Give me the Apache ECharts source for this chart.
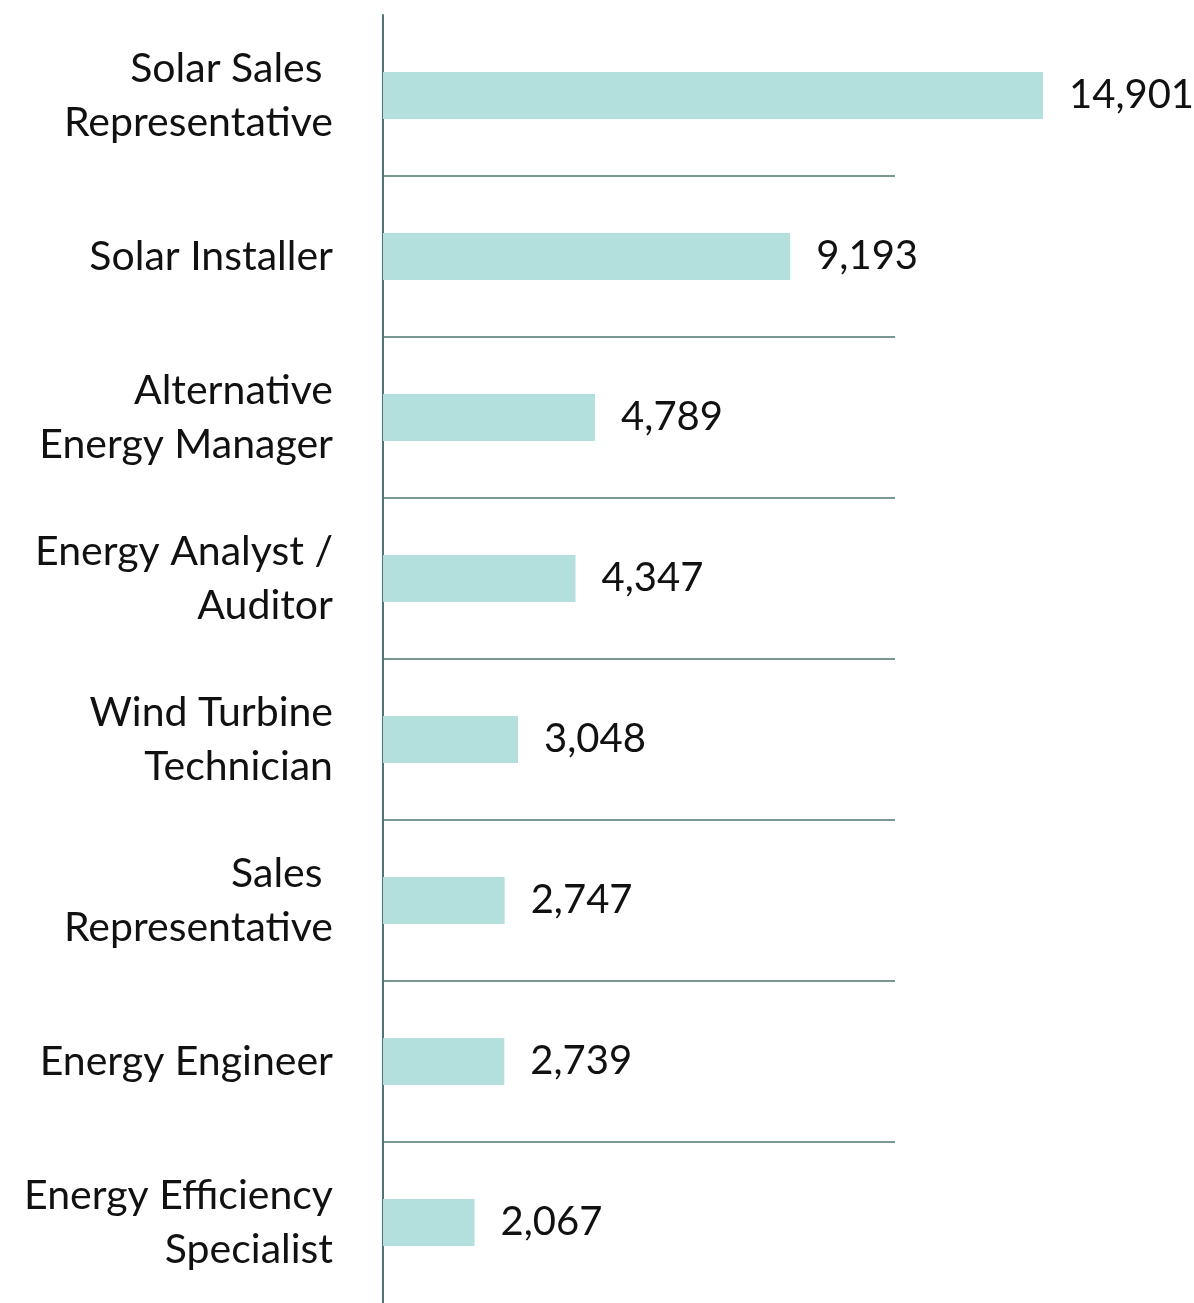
<!DOCTYPE html>
<html>
<head>
<meta charset="utf-8">
<script src="https://cdn.jsdelivr.net/npm/echarts@6/dist/echarts.min.js"></script>
<style>
  html, body { margin: 0; padding: 0; background: #fff; }
  #chart { width: 1194px; height: 1303px; }
</style>
</head>
<body>
<div id="chart"></div>
<script>
// job titles, top to bottom
const jobTitles = [
  'Solar Sales \nRepresentative',
  'Solar Installer',
  'Alternative\nEnergy Manager',
  'Energy Analyst /\nAuditor',
  'Wind Turbine\nTechnician',
  'Sales \nRepresentative',
  'Energy Engineer',
  'Energy Efficiency\nSpecialist'
]
const jobCounts = [14901, 9193, 4789, 4347, 3048, 2747, 2739, 2067]

const chart = echarts.init(document.getElementById('chart'))
const fontName = 'Lato'

chart.setOption({
  animation: false,
  grid: {
    left: 383,
    right: 299,
    top: 15,
    bottom: -2
  },
  xAxis: {
    type: 'value',
    min: 0,
    max: 11560,
    axisLine: { show: false },
    axisTick: { show: false },
    axisLabel: { show: false },
    splitLine: { show: false }
  },
  yAxis: {
    type: 'category',
    inverse: true,
    data: jobTitles,
    axisLine: { show: true, lineStyle: { color: '#4f7471', width: 2 } },
    axisTick: { show: false },
    axisLabel: {
      margin: 50,
      align: 'right',
      fontFamily: fontName,
      fontSize: 41,
      lineHeight: 54,
      color: '#111'
    },
    splitLine: {
      show: true,
      showMinLine: false,
      showMaxLine: false,
      lineStyle: { color: '#4f7471', width: 1.5 }
    }
  },
  series: [
    {
      type: 'bar',
      data: jobCounts,
      barWidth: 47,
      clip: false,
      itemStyle: { color: '#b3e0dc' },
      label: {
        show: true,
        position: 'right',
        distance: 26,
        fontFamily: fontName,
        fontSize: 40,
        color: '#111',
        formatter: p => p.value.toLocaleString('en-US')
      }
    }
  ]
})
</script>
</body>
</html>
